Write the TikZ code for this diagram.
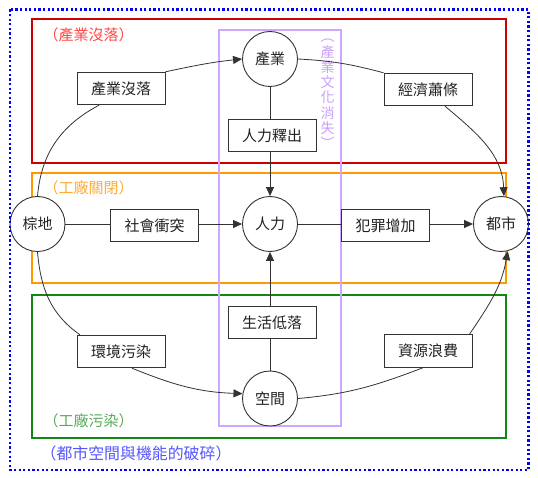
\documentclass[tikz,border=0pt]{standalone}
\usepackage{fontspec}
\setmainfont{Noto Sans CJK TC}
\usetikzlibrary{arrows.meta,calc}
\definecolor{linec}{HTML}{333333}
\definecolor{txt}{HTML}{222222}
\definecolor{redbox}{HTML}{CC0000}
\definecolor{redlab}{HTML}{FF4444}
\definecolor{orbox}{HTML}{FF9900}
\definecolor{orlab}{HTML}{FFAA33}
\definecolor{grbox}{HTML}{118811}
\definecolor{grlab}{HTML}{55AA55}
\definecolor{bluebox}{HTML}{0000FF}
\definecolor{bluelab}{HTML}{5555FF}
\definecolor{purbox}{HTML}{CCA8FF}
\definecolor{purlab}{HTML}{C8A0F8}
\begin{document}
\begin{tikzpicture}[x=1pt,y=1pt,
  circ/.style={circle, draw=linec, line width=0.9pt, fill=white, minimum size=55pt, inner sep=0pt, font=\fontsize{15}{15}\selectfont, text=txt},
  boxn/.style={rectangle, draw=linec, line width=0.9pt, fill=white, minimum width=88pt, minimum height=32.5pt, inner sep=0pt, font=\fontsize{15}{15}\selectfont, text=txt},
  conn/.style={draw=linec, line width=0.8pt},
  arr/.style={conn, -{Triangle[length=9pt,width=8pt]}},
  grp/.style={line width=1.8pt},
  lab/.style={anchor=west, inner sep=0pt, font=\fontsize{15}{15}\selectfont}
]
\useasboundingbox (0,0) rectangle (538,-478);
% group rectangles
\draw[grp, draw=redbox] (32,-19) rectangle (506,-163);
\draw[grp, draw=orbox] (32,-173) rectangle (506,-283);
\draw[grp, draw=grbox] (32,-295) rectangle (506,-438);
\draw[line width=1.2pt, draw=purbox] (219,-30) rectangle (341,-426);
% labels
\node[lab, text=redlab] (lred) at (43.5,-35) {（產業沒落）};
\node[lab, text=orlab] (lor) at (43.5,-188) {（工廠關閉）};
\node[lab, text=grlab] (lgr) at (43.5,-421) {（工廠污染）};
\node[lab, text=bluelab, font=\fontsize{15.9}{15.9}\selectfont] (lblue) at (40.4,-453) {（都市空間與機能的破碎）};
\node[inner sep=0pt, align=center, text=purlab, font=\fontsize{14}{15.3}\selectfont] (lpur) at (327.5,-94) {︵\\產\\業\\文\\化\\消\\失\\︶};
% main nodes
\node[circ] (cy) at (270,-59) {產業};
\node[circ] (rl) at (270,-224) {人力};
\node[circ] (kj) at (270,-398.5) {空間};
\node[circ] (zd) at (37.5,-224) {棕地};
\node[circ] (ds) at (501,-224) {都市};
\node[boxn] (b1) at (121,-88.5) {產業沒落};
\node[boxn] (b2) at (428,-89.5) {經濟蕭條};
\node[boxn] (b3) at (272,-135.5) {人力釋出};
\node[boxn] (b4) at (154.5,-225.5) {社會衝突};
\node[boxn] (b5) at (385.5,-225.5) {犯罪增加};
\node[boxn] (b6) at (272,-322.5) {生活低落};
\node[boxn] (b7) at (121,-351.5) {環境污染};
\node[boxn] (b8) at (428,-351) {資源浪費};
% connectors
\draw[conn] (zd.north) to[out=85,in=-152] ([xshift=-22pt]b1.south);
\draw[arr] (b1.north east) to[out=12,in=186] (cy.west);
\draw[conn] (cy.east) to[out=-3,in=165] (b2.north west);
\draw[arr] ([xshift=17pt]b2.south) to[out=-40,in=92] (ds.84);
\draw[conn] (cy) -- (cy |- b3.north);
\draw[arr] (cy |- b3.south) -- (rl);
\draw[conn] (zd) -- (b4.west |- zd);
\draw[arr] (b4.east |- rl) -- (rl);
\draw[conn] (rl) -- (b5.west |- rl);
\draw[arr] (b5.east |- ds) -- (ds);
\draw[conn] (kj) -- (kj |- b6.south);
\draw[arr] (kj |- b6.north) -- (rl);
\draw[conn] (zd.south) to[out=-85,in=145] ([xshift=-41pt]b7.north);
\draw[arr] ([xshift=11pt]b7.south) to[out=-22,in=178] (kj.170);
\draw[conn] (kj.east) to[out=5,in=-159] ([xshift=-5pt]b8.south);
\draw[arr] ([xshift=-3pt]b8.north east) to[out=56,in=-100] (ds.-76);
% outer dotted border
\draw[draw=bluebox, line width=2.4pt, dash pattern=on 2.2pt off 2.4pt] (10,-9.5) rectangle (528.5,-470);
\end{tikzpicture}
\end{document}
